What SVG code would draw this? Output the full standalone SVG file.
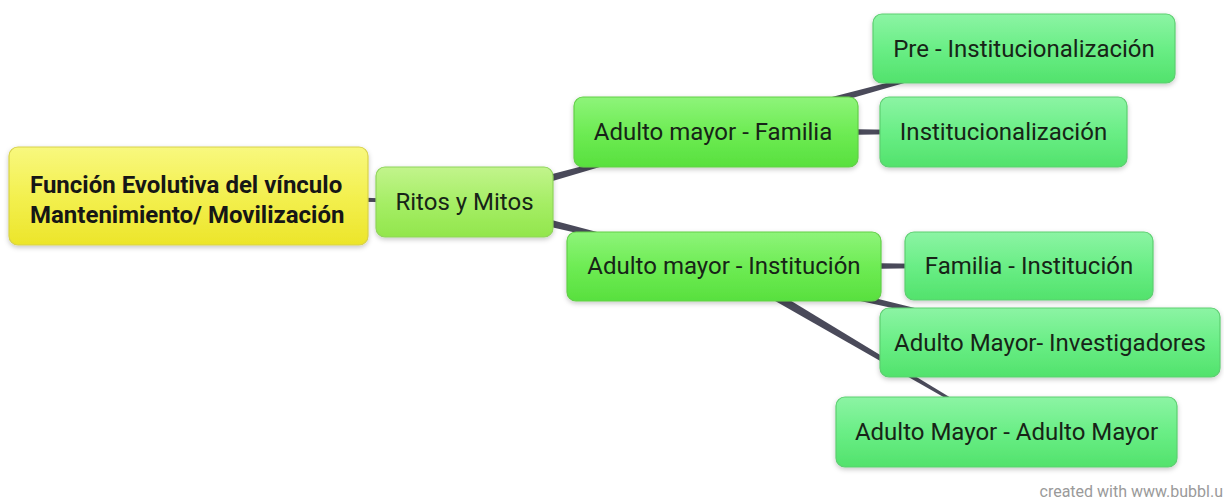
<svg xmlns="http://www.w3.org/2000/svg" width="1224" height="500" viewBox="0 0 1224 500">
<defs>
<linearGradient id="gY" x1="0" y1="0" x2="0" y2="1"><stop offset="0" stop-color="#f8f87e"/><stop offset="0.5" stop-color="#f3f050"/><stop offset="1" stop-color="#ece52a"/></linearGradient>
<linearGradient id="gL" x1="0" y1="0" x2="0" y2="1"><stop offset="0" stop-color="#c2f48c"/><stop offset="0.5" stop-color="#a6ee66"/><stop offset="1" stop-color="#92e64c"/></linearGradient>
<linearGradient id="gM" x1="0" y1="0" x2="0" y2="1"><stop offset="0" stop-color="#8ef47a"/><stop offset="0.5" stop-color="#6eec54"/><stop offset="1" stop-color="#58e03e"/></linearGradient>
<linearGradient id="gC" x1="0" y1="0" x2="0" y2="1"><stop offset="0" stop-color="#8cf4a4"/><stop offset="0.5" stop-color="#6aee86"/><stop offset="1" stop-color="#52e26c"/></linearGradient>
<filter id="sh" x="-10%" y="-20%" width="120%" height="150%"><feDropShadow dx="0" dy="2" stdDeviation="2.5" flood-color="#000" flood-opacity="0.22"/></filter>
</defs>
<style>
.n{filter:url(#sh);stroke-width:1.2}
.y{fill:url(#gY);stroke:#d8d24a}
.l{fill:url(#gL);stroke:#8fd45a}
.m{fill:url(#gM);stroke:#62cf48}
.c{fill:url(#gC);stroke:#5ccf70}
.t{font-family:Roboto,"Liberation Sans",sans-serif;font-size:24px;fill:#172417;text-anchor:middle}
.b{font-family:Roboto,"Liberation Sans",sans-serif;font-size:24px;font-weight:bold;fill:#161616}
.e{fill:#4a4a5a}
</style>
<rect width="1224" height="500" fill="#ffffff"/>
<g id="connectors">
<polygon class="e" points="188,191 188,201 464,202.5 464,201.5"/>
<polygon class="e" points="462.7,197.2 465.3,206.8 716.1,132.5 715.9,131.5"/>
<polygon class="e" points="465.1,197.1 462.9,206.9 723.9,266.5 724.1,265.5"/>
<polygon class="e" points="714.7,127.2 717.3,136.8 1024.1,48.5 1023.9,47.5"/>
<polygon class="e" points="716,127 716,137 1003,132.5 1003,131.5"/>
<polygon class="e" points="724,261 724,271 1029,266.5 1029,265.5"/>
<polygon class="e" points="725.1,261.1 722.9,270.9 1049.9,342.5 1050.1,341.5"/>
<polygon class="e" points="726.5,261.7 721.5,270.3 1005.7,432.4 1006.3,431.6"/>
</g>
<g id="root">
<rect class="n y" x="9" y="147" width="359" height="98" rx="9"/>
<text class="b" x="30" y="193">Función Evolutiva del vínculo</text>
<text class="b" x="30" y="223">Mantenimiento/ Movilización</text>
</g>
<g id="ritos">
<rect class="n l" x="376" y="167" width="177" height="70" rx="9"/>
<text class="t" x="464.5" y="210">Ritos y Mitos</text>
</g>
<g id="am-familia">
<rect class="n m" x="574" y="97" width="284" height="70" rx="9"/>
<text class="t" x="713" y="140">Adulto mayor - Familia</text>
</g>
<g id="am-institucion">
<rect class="n m" x="567" y="232" width="314" height="69" rx="9"/>
<text class="t" x="724" y="274">Adulto mayor - Institución</text>
</g>
<g id="pre-inst">
<rect class="n c" x="873" y="14" width="302" height="69" rx="9"/>
<text class="t" x="1024" y="57">Pre - Institucionalización</text>
</g>
<g id="inst">
<rect class="n c" x="880" y="97" width="247" height="70" rx="9"/>
<text class="t" x="1003.5" y="140">Institucionalización</text>
</g>
<g id="familia-inst">
<rect class="n c" x="905" y="232" width="248" height="68" rx="9"/>
<text class="t" x="1029" y="274">Familia - Institución</text>
</g>
<g id="am-investigadores">
<rect class="n c" x="880" y="308" width="340" height="69" rx="9"/>
<text class="t" x="1050" y="351">Adulto Mayor- Investigadores</text>
</g>
<g id="am-am">
<rect class="n c" x="836" y="397" width="341" height="70" rx="9"/>
<text class="t" x="1006.5" y="440">Adulto Mayor - Adulto Mayor</text>
</g>
<text x="1223" y="497" font-family="Roboto,'Liberation Sans',sans-serif" font-size="16" fill="#9a9a9a" text-anchor="end">created with www.bubbl.u</text>
</svg>
